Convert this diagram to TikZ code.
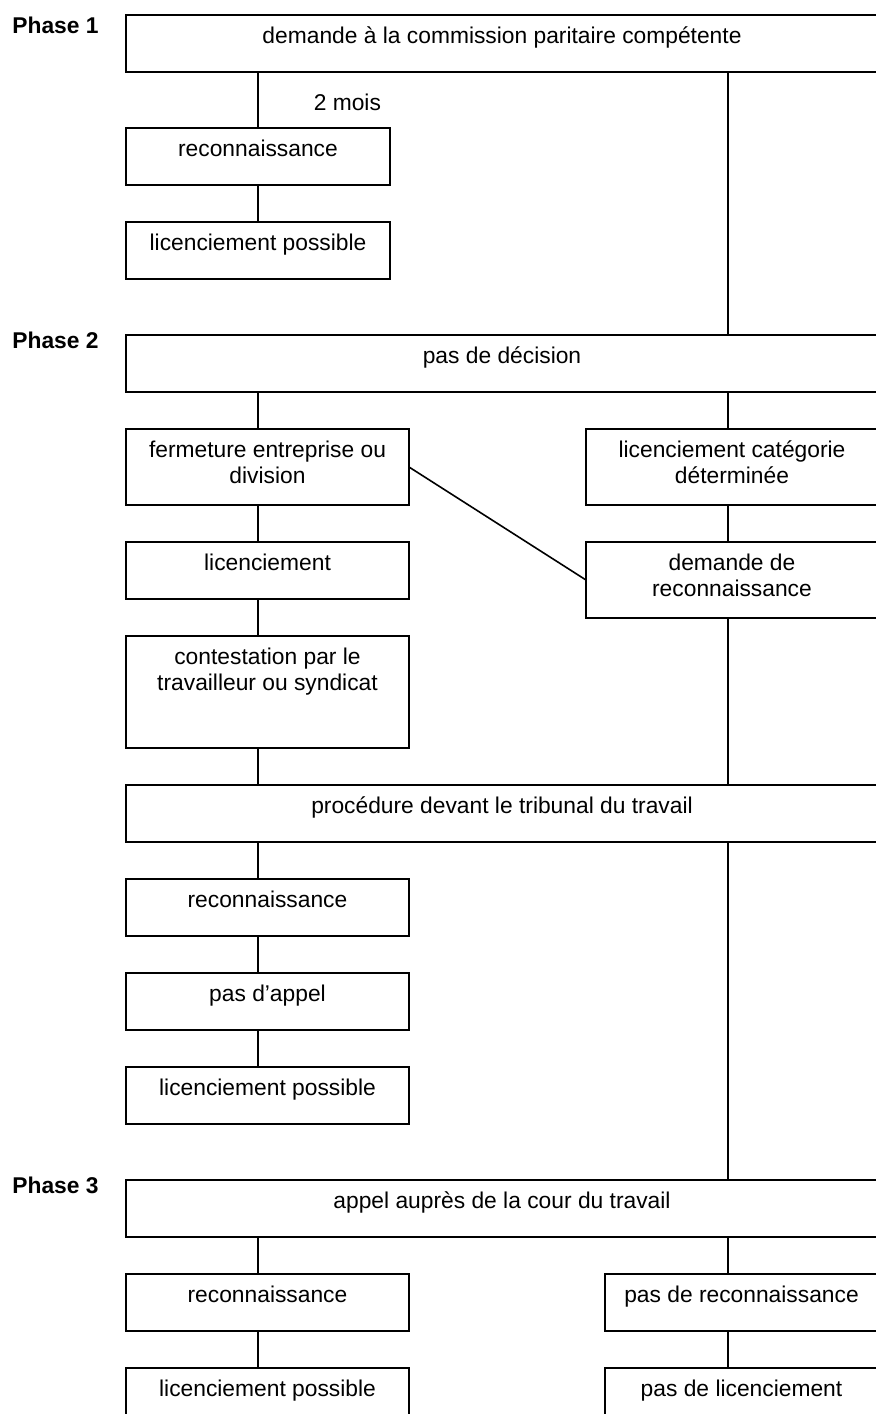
\documentclass[tikz,border=0pt]{standalone}
\usepackage{fontspec}
\setmainfont{Liberation Sans}
\usepackage{tikz}
\usetikzlibrary{positioning}
\newcommand{\boxfont}{\fontsize{11.4pt}{13pt}\selectfont}
\tikzset{
  blk/.style={rectangle,draw=black,line width=0.8pt,inner sep=0pt,
              outer sep=0pt,minimum width=#1,text height=14.2pt,
              text depth=14.3pt,font=\boxfont,align=center},
  tall/.style={text height=27.2pt,text depth=10.8pt},
  ln/.style={line width=0.8pt},
  phs/.style={font=\boxfont\bfseries,anchor=base west,inner sep=0pt},
  lbl/.style={font=\boxfont,inner sep=0pt},
}

\begin{document}
\begin{tikzpicture}[x=0.5pt,y=-0.5pt,node distance=18.5pt]
  \useasboundingbox (0,0) rectangle (876,1414);
  \clip (0,0) rectangle (876,1414);
  \coordinate (lx) at (258,0);
  \coordinate (rx) at (728,0);

  % phase 1
  \node[phs] (ph1) at (12,33) {Phase 1};
  \node[blk=376pt,anchor=north west] (dem) at (126,15)
    {demande à la commission paritaire compétente};
  \node[blk=132pt,below=28pt of dem.south west,anchor=north west] (rec1)
    {reconnaissance};
  \node[blk=132pt,below=of rec1] (lic1) {licenciement possible};

  % phase 2
  \node[phs] (ph2) at (12,348) {Phase 2};
  \node[blk=376pt,below=28pt of lic1.south west,anchor=north west] (dec)
    {pas de décision};
  \node[blk=141.5pt,tall,below=of dec.south west,anchor=north west] (ferm)
    {fermeture entreprise ou\\division};
  \node[blk=146pt,tall,right=88.5pt of ferm] (cat)
    {licenciement catégorie\\déterminée};
  \node[blk=141.5pt,below=of ferm] (lic2) {licenciement};
  \node[blk=146pt,tall,below=of cat] (dreco) {demande de\\reconnaissance};
  \node[blk=141.5pt,tall,text depth=28.8pt,below=of lic2] (cont)
    {contestation par le\\travailleur ou syndicat};
  \node[blk=376pt,below=of cont.south west,anchor=north west] (proc)
    {procédure devant le tribunal du travail};
  \node[blk=141.5pt,below=of proc.south west,anchor=north west] (rec2)
    {reconnaissance};
  \node[blk=141.5pt,below=of rec2] (nap) {pas d'appel};
  \node[blk=141.5pt,below=of nap] (lic3) {licenciement possible};

  % phase 3
  \node[phs] (ph3) at (12,1193) {Phase 3};
  \node[blk=376pt,below=28pt of lic3.south west,anchor=north west] (app)
    {appel auprès de la cour du travail};
  \node[blk=141.5pt,below=of app.south west,anchor=north west] (rec3)
    {reconnaissance};
  \node[blk=136.5pt,right=98pt of rec3] (nrec) {pas de reconnaissance};
  \node[blk=141.5pt,below=of rec3] (lic4) {licenciement possible};
  \node[blk=136.5pt,below=of nrec] (nlic) {pas de licenciement};

  % links
  \draw[ln] (dem.south -| lx) -- node[lbl,pos=.55,right=27.5pt] {2 mois}
    (rec1.north -| lx);
  \draw[ln] (rec1.south -| lx) -- (lic1.north -| lx);
  \draw[ln] (dem.south -| rx) -- (dec.north -| rx);
  \draw[ln] (dec.south -| lx) -- (ferm.north -| lx);
  \draw[ln] (dec.south -| rx) -- (cat.north -| rx);
  \draw[ln] (ferm.south -| lx) -- (lic2.north -| lx);
  \draw[ln] (cat.south -| rx) -- (dreco.north -| rx);
  \draw[ln] (ferm.east) -- (dreco.west);
  \draw[ln] (lic2.south -| lx) -- (cont.north -| lx);
  \draw[ln] (cont.south -| lx) -- (proc.north -| lx);
  \draw[ln] (dreco.south -| rx) -- (proc.north -| rx);
  \draw[ln] (proc.south -| lx) -- (rec2.north -| lx);
  \draw[ln] (rec2.south -| lx) -- (nap.north -| lx);
  \draw[ln] (nap.south -| lx) -- (lic3.north -| lx);
  \draw[ln] (proc.south -| rx) -- (app.north -| rx);
  \draw[ln] (app.south -| lx) -- (rec3.north -| lx);
  \draw[ln] (app.south -| rx) -- (nrec.north -| rx);
  \draw[ln] (rec3.south -| lx) -- (lic4.north -| lx);
  \draw[ln] (nrec.south -| rx) -- (nlic.north -| rx);
\end{tikzpicture}
\end{document}
